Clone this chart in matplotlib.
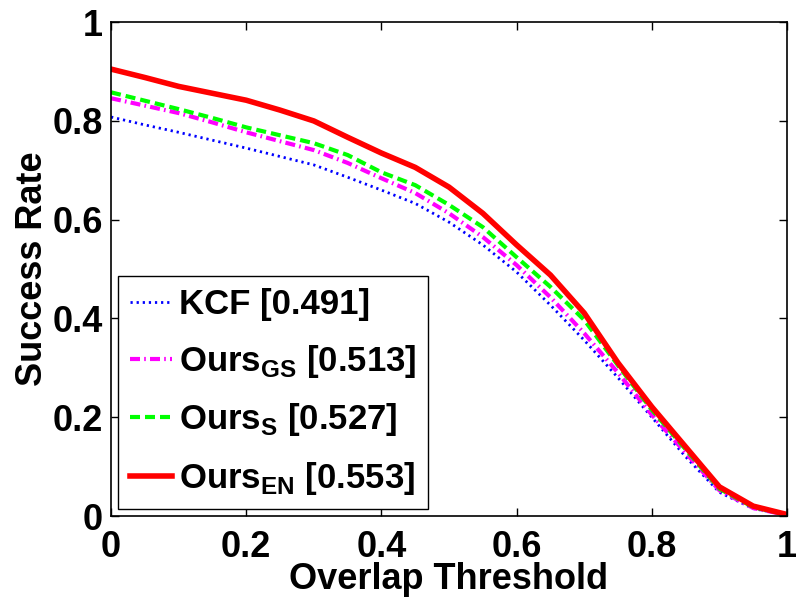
import matplotlib
matplotlib.use("Agg")
import matplotlib.pyplot as plt

plt.rcParams['font.family'] = ['Liberation Sans', 'DejaVu Sans']
plt.rcParams['font.weight'] = 'bold'
plt.rcParams['mathtext.fontset'] = 'custom'
plt.rcParams['mathtext.rm'] = 'Liberation Sans:bold'
plt.rcParams['mathtext.bf'] = 'Liberation Sans:bold'

# overlap thresholds 0:0.05:1
thresholds = [0.0, 0.05, 0.1, 0.15, 0.2, 0.25, 0.3, 0.35, 0.4, 0.45, 0.5,
              0.55, 0.6, 0.65, 0.7, 0.75, 0.8, 0.85, 0.9, 0.95, 1.0]

kcf = [0.808, 0.792, 0.777, 0.761, 0.745, 0.728, 0.711, 0.686, 0.660, 0.633, 0.595,
       0.549, 0.494, 0.427, 0.356, 0.280, 0.200, 0.120, 0.048, 0.015, 0.002]
ours_gs = [0.846, 0.831, 0.816, 0.797, 0.777, 0.759, 0.741, 0.715, 0.684, 0.654, 0.613,
           0.565, 0.508, 0.443, 0.370, 0.290, 0.205, 0.128, 0.052, 0.016, 0.002]
ours_s = [0.858, 0.841, 0.824, 0.806, 0.787, 0.771, 0.755, 0.731, 0.696, 0.670, 0.630,
          0.585, 0.524, 0.464, 0.397, 0.305, 0.215, 0.135, 0.055, 0.018, 0.003]
ours_en = [0.905, 0.888, 0.870, 0.856, 0.842, 0.822, 0.800, 0.767, 0.735, 0.706, 0.666,
           0.613, 0.549, 0.488, 0.411, 0.310, 0.221, 0.140, 0.059, 0.020, 0.003]

labels = ['KCF [0.491]', r'Ours$_\mathrm{GS}$ [0.513]',
          r'Ours$_\mathrm{S}$ [0.527]', r'Ours$_\mathrm{EN}$ [0.553]']

fig = plt.figure(figsize=(7.99, 6.0), dpi=100)
ax = fig.add_axes([0.139, 0.14, 0.846, 0.823])

ax.plot(thresholds, kcf, color='blue', linestyle=(0, (0.8, 1.4)), linewidth=2, label=labels[0])
ax.plot(thresholds, ours_gs, color='magenta', linestyle=(0, (2.4, 1.0, 0.4, 1.0)),
        linewidth=3, label=labels[1])
ax.plot(thresholds, ours_s, color='#00ff00', linestyle=(0, (2.4, 1.2)), linewidth=3,
        label=labels[2])
ax.plot(thresholds, ours_en, color='red', linestyle='-', linewidth=4, label=labels[3])

ax.set_xlim(0, 1)
ax.set_ylim(0, 1)
ax.set_xticks([0, 0.2, 0.4, 0.6, 0.8, 1])
ax.set_xticklabels(['0', '0.2', '0.4', '0.6', '0.8', '1'])
ax.set_yticks([0, 0.2, 0.4, 0.6, 0.8, 1])
ax.set_yticklabels(['0', '0.2', '0.4', '0.6', '0.8', '1'])
ax.tick_params(axis='x', pad=10)
ax.tick_params(axis='y', pad=6)
ax.tick_params(direction='in', top=True, right=True, labelsize=26, length=6, width=1)
for s in ax.spines.values():
    s.set_linewidth(1.2)

ax.set_xlabel('Overlap Threshold', fontsize=26, fontweight='bold', labelpad=-2)
ax.set_ylabel('Success Rate', fontsize=26, fontweight='bold', labelpad=2)

leg = ax.legend(loc='lower left', fontsize=25, handlelength=1.2, handletextpad=0.2,
                borderpad=0.35, labelspacing=0.62, fancybox=False, framealpha=1,
                borderaxespad=0.2)
leg.get_frame().set_edgecolor('black')
leg.get_frame().set_linewidth(1)

fig.savefig('out.png', dpi=100)
